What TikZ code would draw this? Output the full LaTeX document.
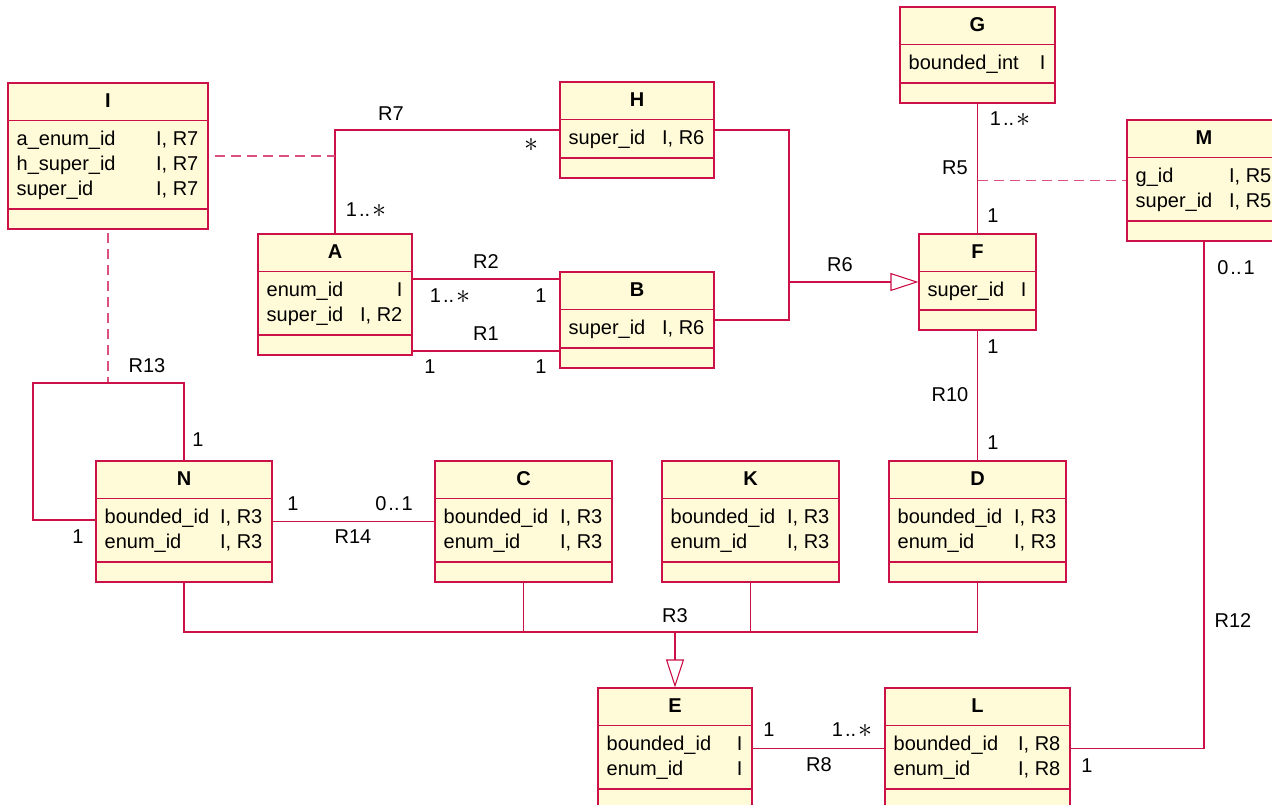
\documentclass[tikz,border=0pt]{standalone}
\usepackage{fontspec}
\setmainfont{Liberation Sans}
\usetikzlibrary{arrows.meta}
\definecolor{umlred}{RGB}{204,16,72}
\definecolor{umlfill}{RGB}{255,250,215}
\definecolor{umldash}{RGB}{220,80,125}
\newcommand{\dgfont}{\fontsize{20}{24}\selectfont}
\newcommand{\bigast}{\raisebox{-0.5pt}{\scalebox{1.35}{$\ast$}}}
\newcommand{\many}{1\hspace{2pt}..\hspace{2pt}\bigast}
\newcommand{\opt}{0\hspace{2pt}..\hspace{2pt}1}
\tikzset{
  classbox/.style={draw=umlred, fill=umlfill, line width=1.1pt, inner sep=0pt, rectangle},
  conn/.style={draw=umlred, line width=1.1pt},
  dashconn/.style={draw=umldash, line width=1.1pt, dash pattern=on 10pt off 6pt, dash phase=10pt},
  lbl/.style={inner sep=0pt, font=\dgfont},
  ctitle/.style={inner sep=0pt, font=\dgfont\bfseries, anchor=base},
  attrl/.style={inner sep=0pt, font=\dgfont, anchor=base west},
  attrr/.style={inner sep=0pt, font=\dgfont, anchor=base east},
  gen/.style={-{Triangle[open, length=28pt, width=18pt]}},
}
% name, left, top, right, rows, title
\newcommand{\umlcls}[6]{%
  \pgfmathsetmacro{\ucx}{(#2+#4)/2}%
  \pgfmathsetmacro{\ucw}{#4-#2}%
  \pgfmathsetmacro{\uch}{71+25*#5}%
  \pgfmathsetmacro{\ucy}{#3+\uch/2}%
  \pgfmathsetmacro{\uchd}{#3+37.5}%
  \pgfmathsetmacro{\ucs}{#3+51+25*#5}%
  \pgfmathsetmacro{\uct}{#3+24}%
  \node[classbox, minimum width=\ucw pt, minimum height=\uch pt] (#1) at (\ucx,\ucy) {};
  \draw[conn] (#1.west |- 0,\uchd) -- (#1.east |- 0,\uchd);
  \draw[conn] (#1.west |- 0,\ucs) -- (#1.east |- 0,\ucs);
  \node[ctitle] (#1-t) at (\ucx,\uct) {#6};
}
% name, top, row, left text, right text
\newcommand{\attr}[5]{%
  \pgfmathsetmacro{\uay}{#2+37+25*#3}%
  \node[attrl, xshift=9pt] (#1-l#3) at (#1.west |- 0,\uay) {#4};
  \node[attrr, xshift=-10pt] (#1-r#3) at (#1.east |- 0,\uay) {#5};
}
\begin{document}
\begin{tikzpicture}[x=1pt,y=-1pt]
\useasboundingbox (0,0) rectangle (1272,804);

\umlcls{I}{8}{83}{208}{3}{I}
\attr{I}{83}{1}{a\_enum\_id}{I, R7}
\attr{I}{83}{2}{h\_super\_id}{I, R7}
\attr{I}{83}{3}{super\_id}{I, R7}

\umlcls{A}{258}{234}{412}{2}{A}
\attr{A}{234}{1}{enum\_id}{I}
\attr{A}{234}{2}{super\_id}{I, R2}

\umlcls{H}{560}{82}{714}{1}{H}
\attr{H}{82}{1}{super\_id}{I, R6}

\umlcls{B}{560}{272}{714}{1}{B}
\attr{B}{272}{1}{super\_id}{I, R6}

\umlcls{G}{900}{7}{1055}{1}{G}
\attr{G}{7}{1}{bounded\_int}{I}

\umlcls{M}{1127}{120}{1281}{2}{M}
\attr{M}{120}{1}{g\_id}{I, R5}
\attr{M}{120}{2}{super\_id}{I, R5}

\umlcls{F}{919}{234}{1036}{1}{F}
\attr{F}{234}{1}{super\_id}{I}

\umlcls{N}{96}{461}{272}{2}{N}
\attr{N}{461}{1}{bounded\_id}{I, R3}
\attr{N}{461}{2}{enum\_id}{I, R3}

\umlcls{C}{435}{461}{612}{2}{C}
\attr{C}{461}{1}{bounded\_id}{I, R3}
\attr{C}{461}{2}{enum\_id}{I, R3}

\umlcls{K}{662}{461}{839}{2}{K}
\attr{K}{461}{1}{bounded\_id}{I, R3}
\attr{K}{461}{2}{enum\_id}{I, R3}

\umlcls{D}{889}{461}{1066}{2}{D}
\attr{D}{461}{1}{bounded\_id}{I, R3}
\attr{D}{461}{2}{enum\_id}{I, R3}

\umlcls{E}{598}{688}{752}{2}{E}
\attr{E}{688}{1}{bounded\_id}{I}
\attr{E}{688}{2}{enum\_id}{I}

\umlcls{L}{885}{688}{1070}{2}{L}
\attr{L}{688}{1}{bounded\_id}{I, R8}
\attr{L}{688}{2}{enum\_id}{I, R8}

% connectors
\coordinate (r6j) at (789,282);
\coordinate (r13a) at (33,383);
\coordinate (r13b) at (33,520);

% R7
\draw[conn] (A.north) -- (A.north |- H.west) -- (H.west);
\draw[dashconn] (I.east) -- (A.north |- I.east);
% R2, R1
\draw[conn] (A.east |- 0,279) -- (B.west |- 0,279);
\draw[conn] (A.east |- 0,351) -- (B.west |- 0,351);
% R6
\draw[conn] (H.east) -- (r6j |- H.east) -- (r6j |- B.east) -- (B.east);
\draw[conn, gen] (r6j) -- (F.west);
% R5
\draw[conn] (G.south) -- (F.north);
\draw[dashconn, dash phase=0pt] (G.south |- M.west) -- (M.west);
% R10
\draw[conn] (F.south) -- (D.north);
% R12
\draw[conn] (M.south) -- (M.south |- L.east) -- (L.east);
% R13
\draw[dashconn, dash phase=13pt] (I.south) -- (I.south |- r13a);
\draw[conn] (N.north) -- (N.north |- r13a) -- (r13a) -- (r13b) -- (N.west |- r13b);
% R14
\draw[conn] (N.east) -- (C.west);
% R3
\draw[conn] (N.south) -- (N.south |- 0,632) -- (D.south |- 0,632) -- (D.south);
\draw[conn] (C.south) -- (C.south |- 0,632);
\draw[conn] (K.south) -- (K.south |- 0,632);
\draw[conn, gen] (E.north |- 0,632) -- (E.north);
% R8
\draw[conn] (E.east) -- (L.west);

% labels
\node[lbl] (l-R7) at (391,114) {R7};
\node[lbl] (l-R7h) at (531,145) {\bigast};
\node[lbl] (l-R7a) at (366,210) {\many};
\node[lbl] (l-R2) at (486,262) {R2};
\node[lbl] (l-R2a) at (450,296) {\many};
\node[lbl] (l-R2b) at (541,296) {1};
\node[lbl] (l-R1) at (486,334) {R1};
\node[lbl] (l-R1a) at (430,367) {1};
\node[lbl] (l-R1b) at (541,367) {1};
\node[lbl] (l-R6) at (840,265) {R6};
\node[lbl] (l-R5g) at (1010,119) {\many};
\node[lbl] (l-R5) at (955,168) {R5};
\node[lbl] (l-R5f) at (993,216) {1};
\node[lbl] (l-R10f) at (993,347) {1};
\node[lbl] (l-R10) at (950,395) {R10};
\node[lbl] (l-R10d) at (993,443) {1};
\node[lbl] (l-R12m) at (1236,268) {\opt};
\node[lbl] (l-R12) at (1233,621) {R12};
\node[lbl] (l-R12l) at (1087,766) {1};
\node[lbl] (l-R13) at (147,366) {R13};
\node[lbl] (l-R13a) at (198,440) {1};
\node[lbl] (l-R13b) at (78,537) {1};
\node[lbl] (l-R14n) at (293,504) {1};
\node[lbl] (l-R14c) at (394,504) {\opt};
\node[lbl] (l-R14) at (353,537) {R14};
\node[lbl] (l-R3) at (675,616) {R3};
\node[lbl] (l-R8e) at (769,730) {1};
\node[lbl] (l-R8l) at (852,730) {\many};
\node[lbl] (l-R8) at (819,765) {R8};
\end{tikzpicture}
\end{document}
